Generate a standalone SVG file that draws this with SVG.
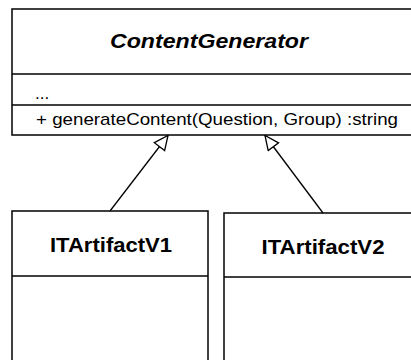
<svg xmlns="http://www.w3.org/2000/svg" width="411" height="360" viewBox="0 0 411 360">
<style>
.box{fill:#fff;stroke:#000;stroke-width:1.5}
.div{stroke:#000;stroke-width:1.5}
.t{font-family:"Liberation Sans",Arial,sans-serif;fill:#000}
.title{font-size:20px;font-weight:bold}
.mem{font-size:17px}
.conn{stroke:#000;stroke-width:1.3;fill:none}
</style>
<defs>
<marker id="tri" markerWidth="16" markerHeight="16" refX="15" refY="7.5" orient="auto" markerUnits="userSpaceOnUse">
<path d="M1,1 L15,7.5 L1,14 Z" fill="#fff" stroke="#000" stroke-width="1.3"/>
</marker>
</defs>
<g id="ContentGenerator">
<rect class="box" x="12" y="9" width="410" height="126"/>
<line class="div" x1="12" y1="74" x2="411" y2="74"/>
<line class="div" x1="12" y1="105" x2="411" y2="105"/>
<text class="t title" x="209" y="48" text-anchor="middle" font-style="italic" textLength="198" lengthAdjust="spacingAndGlyphs">ContentGenerator</text>
<text class="t mem" x="35" y="99">...</text>
<text class="t mem" x="36" y="125" textLength="362" lengthAdjust="spacingAndGlyphs">+ generateContent(Question, Group) :string</text>
</g>
<g id="ITArtifactV1">
<rect class="box" x="12" y="211" width="196" height="160"/>
<line class="div" x1="12" y1="276" x2="208" y2="276"/>
<text class="t title" x="111" y="252" text-anchor="middle" textLength="122" lengthAdjust="spacingAndGlyphs">ITArtifactV1</text>
</g>
<g id="ITArtifactV2">
<rect class="box" x="224" y="213" width="200" height="160"/>
<line class="div" x1="224" y1="277" x2="411" y2="277"/>
<text class="t title" x="323" y="254" text-anchor="middle" textLength="123" lengthAdjust="spacingAndGlyphs">ITArtifactV2</text>
</g>
<g id="connectors">
<line class="conn" x1="110" y1="211" x2="168" y2="135.5" marker-end="url(#tri)"/>
<line class="conn" x1="323" y1="213" x2="265" y2="135.5" marker-end="url(#tri)"/>
</g>
</svg>
